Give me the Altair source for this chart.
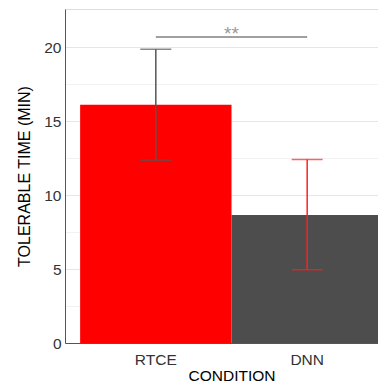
import altair as alt
import pandas as pd

conditions = ["RTCE", "DNN"]
means = [16.1, 8.65]
lower = [12.35, 4.95]
upper = [19.85, 12.4]
bar_colors = ["#FF0000", "#4D4D4D"]
y_ticks = [0, 2.5, 5, 7.5, 10, 12.5, 15, 17.5, 20]
sig_from, sig_to, sig_y, sig_label = "RTCE", "DNN", 20.67, "**"

df = pd.DataFrame({"condition": conditions, "mean": means, "lo": lower, "hi": upper})
sig = pd.DataFrame({"a": [sig_from], "b": [sig_to], "y": [sig_y], "t": [sig_label]})

FONT = "Liberation Sans"
xscale = alt.Scale(domain=conditions, paddingInner=0, paddingOuter=0.1)
yscale = alt.Scale(domain=[0, 22.57], nice=False, zero=True)

x_enc = alt.X("condition:N", scale=xscale, sort=conditions,
              axis=alt.Axis(title="CONDITION", labelAngle=0, ticks=False, labelPadding=9,
                            titlePadding=1, domainColor="#555555", labelColor="#333333",
                            labelFontSize=15.5, titleFontSize=15.5, titleColor="#000000",
                            titleFontWeight="normal", labelFont=FONT, titleFont=FONT))

bars = alt.Chart(df).mark_bar().encode(
    x=x_enc,
    y=alt.Y("mean:Q", scale=yscale,
            axis=alt.Axis(title="TOLERABLE TIME (MIN)", values=y_ticks, ticks=False,
                          labelExpr="datum.value % 5 === 0 ? datum.label : ''",
                          grid=True,
                          gridColor={"condition": {"test": "datum.value % 5 !== 0", "value": "#F2F2F2"}, "value": "#E6E6E6"},
                          domainColor="#555555", labelColor="#333333", labelPadding=4,
                          labelFontSize=15.5, titleFontSize=16, titleColor="#000000",
                          titleFontWeight="normal", titlePadding=11, labelFont=FONT, titleFont=FONT)),
    color=alt.Color("condition:N", scale=alt.Scale(domain=conditions, range=bar_colors), legend=None),
)

err_color = alt.condition(alt.datum.condition == "RTCE", alt.value("#555555"), alt.value("#FF2020"))

err_rule = alt.Chart(df).mark_rule(strokeWidth=1.5).encode(
    x=alt.X("condition:N", scale=xscale, sort=conditions),
    y=alt.Y("lo:Q", scale=yscale),
    y2="hi:Q",
    color=err_color,
)
cap_lo = alt.Chart(df).mark_tick(size=31, thickness=1.5).encode(
    x=alt.X("condition:N", scale=xscale, sort=conditions),
    y=alt.Y("lo:Q", scale=yscale),
    color=err_color,
)
cap_hi = alt.Chart(df).mark_tick(size=31, thickness=1.5).encode(
    x=alt.X("condition:N", scale=xscale, sort=conditions),
    y=alt.Y("hi:Q", scale=yscale),
    color=err_color,
)

sig_line = alt.Chart(sig).mark_rule(color="#808080", strokeWidth=1.5).encode(
    x=alt.X("a:N", scale=xscale),
    x2="b:N",
    y=alt.Y("y:Q", scale=yscale),
)
sig_text = alt.Chart(sig).mark_text(color="#999999", fontSize=19, font=FONT, baseline="alphabetic", dy=3).encode(
    x=alt.value(166.5),
    y=alt.Y("y:Q", scale=yscale),
    text="t:N",
)

chart = alt.layer(bars, err_rule, cap_lo, cap_hi, sig_line, sig_text).properties(
    width=333, height=334,
    autosize=alt.AutoSizeParams(type="none"),
    padding={"left": 57, "top": 1, "right": -20, "bottom": 42},
).configure_view(stroke="#666666", strokeWidth=1).configure(background="white")

chart.save("out.html", embed_options={"renderer": "svg", "actions": False})
